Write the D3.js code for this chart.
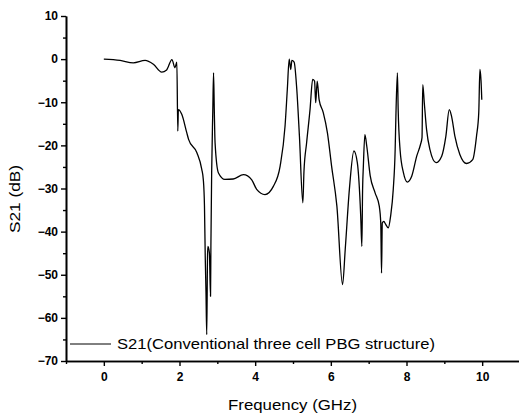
<!DOCTYPE html>
<html lang="en">
<head>
<meta charset="utf-8">
<title>S21</title>
<script src="https://d3js.org/d3.v7.min.js"></script>
<style>
  body { margin: 0; background: #fff; }
  text { font-family: "Liberation Sans", Arial, sans-serif; fill: #000; }
</style>
</head>
<body>
<svg id="chart" width="519" height="416"></svg>
<script>
// frequency in GHz, S21 in dB
var freq = [0.00, 0.43, 0.78, 1.09, 1.31, 1.53, 1.66, 1.80, 1.88, 1.93, 1.955, 1.97, 2.06, 2.19, 2.24, 2.46, 2.59, 2.63, 2.66, 2.68,
  2.70, 2.72, 2.74, 2.75, 2.79, 2.82, 2.83, 2.85, 2.88, 2.90, 2.92, 2.94, 3.03, 3.20, 3.42, 3.69, 3.91, 4.04, 4.26, 4.48,
  4.66, 4.79, 4.85, 4.90, 4.94, 4.97, 5.03, 5.10, 5.17, 5.26, 5.29, 5.36, 5.45, 5.52, 5.57, 5.60, 5.64, 5.69, 5.80, 5.91,
  6.02, 6.16, 6.31, 6.38, 6.49, 6.61, 6.70, 6.79, 6.82, 6.84, 6.86, 6.90, 6.95, 7.04, 7.17, 7.28, 7.32, 7.34, 7.36, 7.40,
  7.43, 7.52, 7.58, 7.65, 7.70, 7.72, 7.76, 7.78, 7.83, 7.92, 8.02, 8.14, 8.27, 8.37, 8.41, 8.43, 8.47, 8.53, 8.62, 8.78,
  8.93, 9.04, 9.13, 9.19, 9.28, 9.41, 9.59, 9.75, 9.85, 9.91, 9.94, 9.97, 9.99];
var s21 = [0.0, -0.3, -0.85, -0.3, -1.2, -3.0, -2.5, -0.1, -2.0, -0.7, -16.7, -11.7, -12.8, -17.0, -18.6, -21.7, -25.6, -28.0, -34.0, -45.7,
  -54.0, -63.9, -46.0, -43.4, -44.9, -55.0, -43.4, -26.4, -12.0, -3.2, -12.0, -19.4, -26.4, -27.9, -27.8, -26.8, -28.0, -30.2, -31.4, -29.5,
  -24.8, -15.5, -7.0, 0.0, -2.4, -0.3, -0.7, -7.0, -17.9, -33.3, -26.0, -19.4, -11.7, -4.7, -5.1, -10.1, -5.1, -9.4, -12.4, -17.1,
  -24.8, -34.1, -52.3, -44.2, -30.2, -21.3, -24.0, -36.4, -43.4, -30.0, -24.8, -17.5, -20.2, -27.0, -31.0, -34.1, -38.0, -49.6, -38.0, -37.6,
  -38.0, -39.1, -36.4, -30.2, -21.0, -13.2, -3.2, -11.7, -21.0, -26.4, -28.5, -27.1, -22.5, -19.8, -18.2, -5.9, -10.1, -16.3, -21.0, -24.0,
  -22.5, -17.9, -11.7, -13.2, -17.9, -22.1, -24.2, -23.3, -17.9, -12.4, -2.4, -5.0, -9.4];

var xTicks = [0, 2, 4, 6, 8, 10];
var xMinor = [-1, 1, 3, 5, 7, 9, 11];
var yTicks = [10, 0, -10, -20, -30, -40, -50, -60, -70];
var yMinor = [5, -5, -15, -25, -35, -45, -55, -65];
var legendLabel = "S21(Conventional three cell PBG structure)";

var svg = d3.select("#chart");

var x = d3.scaleLinear().domain([-1, 11]).range([66, 520]);
var y = d3.scaleLinear().domain([-70, 10]).range([361, 16]);

var data = freq.map(function (f, i) { return { f: f, v: s21[i] }; });

// axes
svg.append("g")
  .attr("transform", "translate(0," + y(-70) + ")")
  .call(d3.axisBottom(x).tickValues(xTicks).tickSize(5).tickPadding(6).tickSizeOuter(0));
svg.append("g")
  .attr("transform", "translate(0," + y(-70) + ")")
  .call(d3.axisBottom(x).tickValues(xMinor).tickSize(3).tickFormat("").tickSizeOuter(0));

svg.append("g")
  .attr("transform", "translate(" + x(-1) + ",0)")
  .call(d3.axisLeft(y).tickValues(yTicks).tickSize(5).tickPadding(3).tickSizeOuter(0));
svg.append("g")
  .attr("transform", "translate(" + x(-1) + ",0)")
  .call(d3.axisLeft(y).tickValues(yMinor).tickSize(3).tickFormat("").tickSizeOuter(0));

svg.selectAll(".domain").attr("stroke", "#000").attr("stroke-width", 1.6);
svg.selectAll(".tick line").attr("stroke", "#000").attr("stroke-width", 1.4);
svg.selectAll(".tick text")
  .style("font-family", "'Liberation Sans', Arial, sans-serif")
  .style("font-size", "12px")
  .style("font-weight", "bold")
  .attr("fill", "#000");

// curve
svg.append("path")
  .datum(data)
  .attr("fill", "none")
  .attr("stroke", "#000")
  .attr("stroke-width", 1.3)
  .attr("stroke-linejoin", "round")
  .attr("d", d3.line()
    .x(function (d) { return x(d.f); })
    .y(function (d) { return y(d.v); })
    .curve(d3.curveMonotoneX));

// axis titles
svg.append("text")
  .attr("x", 228)
  .attr("y", 410)
  .attr("textLength", 129)
  .attr("lengthAdjust", "spacingAndGlyphs")
  .style("font-size", "15px")
  .text("Frequency (GHz)");

svg.append("text")
  .attr("transform", "translate(20,233) rotate(-90)")
  .attr("textLength", 68)
  .attr("lengthAdjust", "spacingAndGlyphs")
  .style("font-size", "15px")
  .text("S21 (dB)");

// legend
svg.append("line")
  .attr("x1", 70).attr("x2", 111)
  .attr("y1", 344).attr("y2", 344)
  .attr("stroke", "#000")
  .attr("stroke-width", 1);
svg.append("text")
  .attr("x", 117)
  .attr("y", 349)
  .attr("textLength", 318)
  .attr("lengthAdjust", "spacingAndGlyphs")
  .style("font-size", "15px")
  .text(legendLabel);
</script>
</body>
</html>
